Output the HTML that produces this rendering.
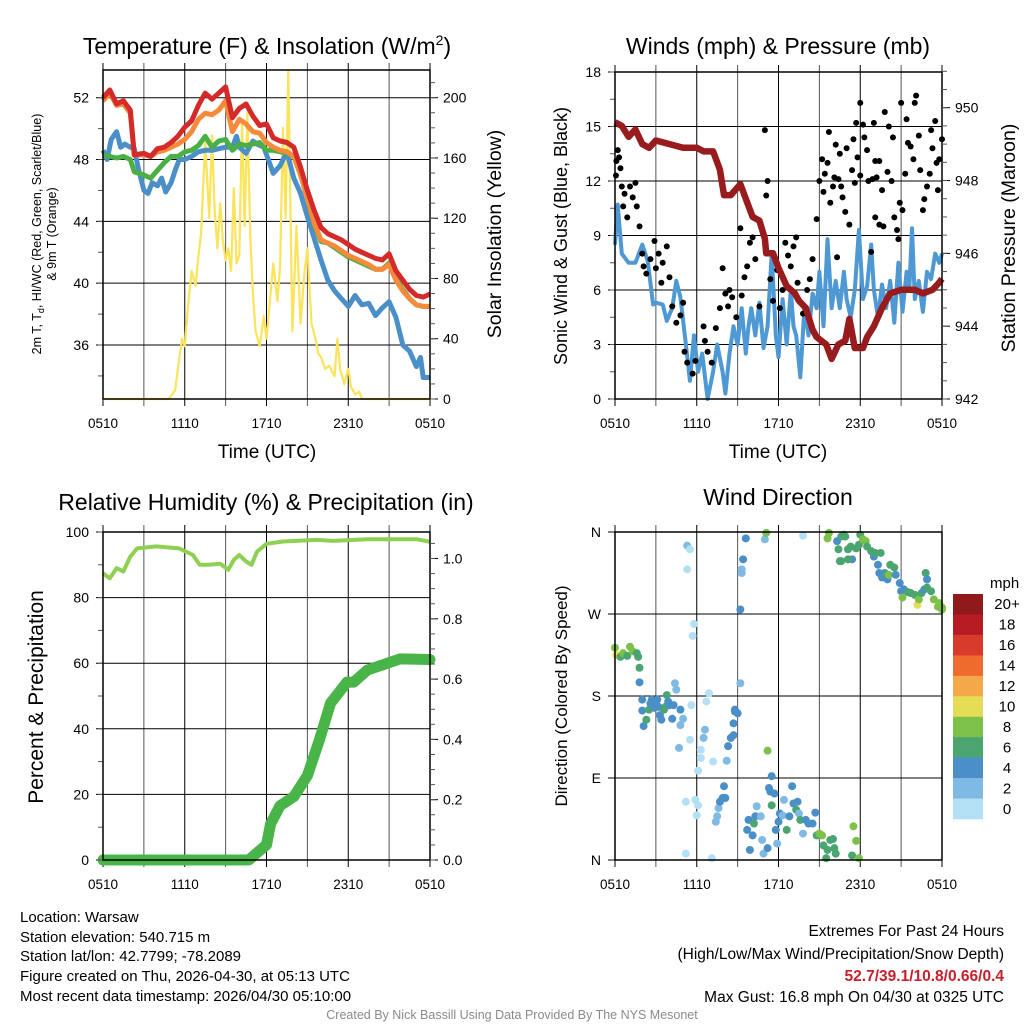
<!DOCTYPE html>
<html><head><meta charset="utf-8"><style>
html,body{margin:0;padding:0;background:#fff;}
svg{display:block;font-family:"Liberation Sans",Arial,sans-serif;}
</style></head><body>
<svg id="fig" width="1024" height="1024" viewBox="0 0 1024 1024" xmlns="http://www.w3.org/2000/svg">
<rect x="0" y="0" width="1024" height="1024" fill="#fff"/>
<g id="layer-grid"></g>
<g id="layer-data"></g>
<g id="layer-axes"></g>
<g id="layer-text" font-size="14" fill="#000">
  <text x="267" y="54" font-size="23" text-anchor="middle">Temperature (F) &amp; Insolation (W/m<tspan font-size="14" dy="-9">2</tspan><tspan dy="9">)</tspan></text>
  <text x="778" y="54" font-size="23" text-anchor="middle">Winds (mph) &amp; Pressure (mb)</text>
  <text x="266" y="510" font-size="23" text-anchor="middle">Relative Humidity (%) &amp; Precipitation (in)</text>
  <text x="778" y="505" font-size="23" text-anchor="middle">Wind Direction</text>

  <text x="267" y="458" font-size="19" text-anchor="middle">Time (UTC)</text>
  <text x="778" y="458" font-size="19" text-anchor="middle">Time (UTC)</text>

  <text transform="translate(41,234) rotate(-90)" font-size="12.5" text-anchor="middle">2m T, T<tspan font-size="9" dy="3">d</tspan><tspan dy="-3">, HI/WC (Red, Green, Scarlet/Blue)</tspan></text>
  <text transform="translate(56,234) rotate(-90)" font-size="12.5" text-anchor="middle">&amp; 9m T (Orange)</text>
  <text transform="translate(501,234) rotate(-90)" font-size="19.5" text-anchor="middle">Solar Insolation (Yellow)</text>
  <text transform="translate(567,236) rotate(-90)" font-size="18" text-anchor="middle">Sonic Wind &amp; Gust (Blue, Black)</text>
  <text transform="translate(1015,238) rotate(-90)" font-size="19.5" text-anchor="middle">Station Pressure (Maroon)</text>
  <text transform="translate(43,697) rotate(-90)" font-size="21" text-anchor="middle">Percent &amp; Precipitation</text>
  <text transform="translate(567,696) rotate(-90)" font-size="17" text-anchor="middle">Direction (Colored By Speed)</text>

  <g font-size="15">
    <text x="20" y="922">Location: Warsaw</text>
    <text x="20" y="942">Station elevation: 540.715 m</text>
    <text x="20" y="961">Station lat/lon: 42.7799; -78.2089</text>
    <text x="20" y="981">Figure created on Thu, 2026-04-30, at 05:13 UTC</text>
    <text x="20" y="1001">Most recent data timestamp: 2026/04/30 05:10:00</text>
  </g>
  <g font-size="15.5" text-anchor="end">
    <text x="1004" y="936">Extremes For Past 24 Hours</text>
    <text x="1004" y="959">(High/Low/Max Wind/Precipitation/Snow Depth)</text>
    <text x="1004" y="981" fill="#c8202a" font-weight="bold">52.7/39.1/10.8/0.66/0.4</text>
    <text x="1004" y="1002">Max Gust: 16.8 mph On 04/30 at 0325 UTC</text>
  </g>
  <text x="512" y="1019" font-size="12.5" fill="#8a8a8a" text-anchor="middle">Created By Nick Bassill Using Data Provided By The NYS Mesonet</text>
</g>
</svg>
<script>
// ---------- DATA ----------
const timeLabels = ["0510","1110","1710","2310","0510"];
// Temperature panel (hours since 0510)
const redH = [0,0.5,1,1.5,2,2.3,3,3.5,4,4.5,5,5.5,6,6.5,7,7.5,8,8.5,9,9.5,10,10.5,11,11.5,12,12.5,13,13.5,14,14.5,15,15.5,16,16.5,17,17.5,18,18.5,19,19.5,20,20.5,21,21.5,22,22.5,23,23.5,24];
const redV = [52,52.5,51.6,51.8,51.2,48.3,48.4,48.2,48.7,48.8,49.1,49.5,50.1,50.5,51.5,52.3,51.9,52.3,52.7,50.7,51.3,51.6,50.8,50.2,50.3,49.4,49.2,49.1,48.8,47.5,46,44.7,43.6,43.2,43,42.8,42.5,42.2,42,41.8,41.6,41.5,41.9,40.8,40.2,39.6,39.2,39.1,39.3];
const orangeV = [51.8,52.3,51.5,51.6,51,48.3,48.3,48.2,48.5,48.6,48.8,49,49.3,49.8,50.6,51,50.9,51.2,51.8,49.8,50.6,50.3,49.8,49.7,49.1,48.8,48.6,48.5,48.2,47,45.5,43.9,42.8,42.6,42.4,42.1,41.8,41.6,41.4,41.2,40.9,40.9,41.2,40.2,39.5,39,38.6,38.5,38.5];
const greenV = [48.3,48.2,48.1,48.2,48,47.2,47,46.8,47.3,47.8,48.2,48.2,48.5,48.6,48.9,49.5,48.8,49.2,49.3,48.6,49,48.9,49,49.1,48.6,48.6,48.5,48.4,48.2,47,45.5,43.8,42.7,42.6,42.3,42,41.7,41.5,41.3,41.1,40.9,40.9,41.3,40.3,39.6,39,38.6,38.5,38.5];
const blueH = [0,0.3,0.6,1,1.3,1.6,2,2.3,2.6,3,3.3,3.6,4,4.3,4.6,5,5.3,5.6,6,6.5,7,7.5,8,8.5,9,9.5,9.8,10,10.5,11,11.3,11.8,12.5,13,13.5,14,14.5,15,15.5,16,16.5,17,17.5,18,18.5,19,19.5,20,20.5,21,21.5,22,22.5,23,23.3,23.5,24];
const blueV = [48.6,48,49.3,49.8,48.8,49,48.8,48.7,47.4,46,45.8,46.5,46.3,46.8,45.9,46.5,47.3,48,48,48.2,48.5,48.6,48.6,48.7,48.8,48.8,49.5,48.8,48.4,49.2,49.0,48.8,47.1,47.6,48.5,46.8,45.8,44.3,42.9,41.5,40.2,39.5,39,38.5,39.2,38.6,38.7,37.9,38.4,38.8,37.8,36,35.6,34.6,35.2,33.9,33.9];
const solarH = [0,4.8,5,5.3,5.5,5.8,6,6.2,6.5,6.8,7,7.2,7.5,7.8,8,8.2,8.4,8.6,8.8,9,9.2,9.4,9.6,9.8,10,10.2,10.4,10.6,10.8,11,11.2,11.5,11.8,12,12.2,12.5,12.8,13,13.2,13.4,13.6,13.9,14.2,14.5,14.8,15,15.3,15.6,15.8,16,16.3,16.6,17,17.2,17.4,17.7,18,18.2,18.5,18.8,19,24];
const solarV = [0,0,2,6,20,40,35,58,85,75,95,110,170,120,175,125,100,130,105,92,100,85,140,90,95,185,115,190,110,70,45,35,55,40,60,90,65,88,180,120,218,45,115,50,85,100,50,40,30,28,20,22,15,40,20,10,20,8,3,5,0,0];
// Winds panel
const windH = [0,0.2,0.5,1,1.5,2,2.4,2.8,3,3.5,3.8,4.2,4.5,4.8,5.2,5.5,5.8,6.1,6.4,6.8,7.2,7.5,7.9,8.1,8.4,8.7,9,9.3,9.6,9.8,10,10.3,10.6,10.9,11.2,11.5,11.8,12,12.3,12.6,12.9,13.1,13.3,13.6,13.9,14.2,14.5,14.8,15,15.3,15.6,15.9,16.2,16.5,16.8,17,17.3,17.6,17.9,18.2,18.5,18.8,19,19.3,19.6,19.9,20.2,20.5,20.8,21.1,21.4,21.6,21.8,22,22.3,22.6,22.9,23.2,23.5,23.8,24];
const windV = [8.5,10.7,8,7.5,7.5,8.5,7.6,5.2,5.3,5.2,4.3,5,6.5,5.6,3,1,3.5,1.5,2.5,0,1.5,3,1.5,0.3,2.5,4,3,5,2.5,4,5,3.5,5.3,2.8,4,8,3.5,2.3,5.5,3,6,4,3.5,1.2,5,3.5,5.8,5,7,4,8.8,5,6.5,5,7,5.5,4.5,6,9.3,5.5,6.2,8.5,6,4.5,6.3,5,6.5,4.2,7.5,4.8,7,6,9.4,5.5,6.5,4.8,7,6.6,8,7.5,8];
const presH = [0,0.5,1,1.5,2,2.5,3,4,5,6,6.5,7.2,7.7,8,8.5,9.2,9.6,10.1,10.6,11,11.1,11.6,12,12.6,13.2,13.5,14,14.5,14.8,15.5,15.9,16.4,16.9,17.2,17.4,17.6,18.2,18.5,19,19.6,20.2,21,22,22.6,23.3,23.8,24];
const presV = [949.6,949.5,949.2,949.4,949,948.9,949.1,949,948.9,948.9,948.8,948.8,948.3,947.6,947.6,947.9,947.5,947,946.9,946.4,946,946,945.6,945.1,944.9,944.7,944.5,943.9,943.7,943.5,943.1,943.5,943.6,944.2,943.8,943.4,943.4,943.7,944,944.5,944.9,945,945,944.9,945,945.2,945.3];
const gustH = [0.07,0.1,0.2,0.3,0.4,0.5,0.6,0.7,0.9,1.1,1.3,1.5,1.6,1.8,2,2.1,2.3,2.6,2.9,3,3.2,3.4,3.5,3.8,4,4.2,4.5,4.8,5,5.1,5.3,5.7,5.9,6.5,6.6,6.8,7.1,7.4,7.7,7.9,8.1,8.3,8.4,8.6,8.9,9.2,9.3,9.5,9.7,9.9,10.1,10.3,10.6,11,11.1,11.2,11.4,11.6,11.9,12.1,12.3,12.5,12.7,12.9,13.1,13.3,13.4,13.8,14.1,14.3,14.5,14.8,15,15.2,15.3,15.4,15.6,15.7,15.8,16,16.1,16.2,16.3,16.4,16.5,16.6,16.7,16.9,17,17.2,17.4,17.5,17.6,17.7,17.8,18,18,18.2,18.3,18.5,18.6,18.8,18.9,19,19.1,19.1,19.2,19.4,19.4,19.6,19.7,19.8,20,20.1,20.3,20.4,20.5,20.7,20.8,20.9,21,21.1,21.3,21.4,21.5,21.7,21.9,22,22.1,22.3,22.4,22.6,22.7,22.9,23.1,23.2,23.3,23.5,23.6,23.7,23.8,24];
const gustV = [12.3,13.1,13.7,13.3,12.7,11.7,10.6,11.3,10,11.7,11.1,11.9,10.6,9.5,8,7.3,6.9,7.7,8.7,7.2,8,6.4,7.5,8.4,6.7,5.1,4.2,4.6,5.3,2.6,2,1.4,2.1,4,3.2,2.6,2,3.9,5,7.2,5.8,5.1,6,5.6,4.5,9.4,5.7,6.7,7.3,8.6,8.9,7.7,5.1,14.8,11.2,12,6.6,5.4,7.1,5,6,8.6,7.9,7.3,8.4,8.9,6.4,4.7,6,6.6,7.7,9.9,12,13.2,11.4,12.4,13,14.7,10.8,11.7,12.2,14,7.8,12.1,13.5,11.7,11.1,10.3,13.8,9.6,12.6,14.3,11.9,15.2,13.3,16.3,12.3,15.1,14.4,13.7,12,8.1,12.1,15.2,13.1,10,12.2,13.1,9.6,11.5,9.5,15.8,12.5,15,12,14.4,10,9.3,8.8,10.8,16.3,10.4,12.4,15.4,14.1,13.9,13.2,16.3,16.7,14.5,12.6,10.4,11,11.7,12.4,14.8,13.8,15.3,13,11.5,13.2,14.3];
// Humidity panel
const rhH = [0,0.5,1,1.5,2,2.5,3.9,5.6,6.6,7.1,7.8,8.6,9.2,9.6,10,10.5,10.9,11.3,12,13.2,15.7,16.9,19.4,23,24];
const rhV = [87.4,85.9,89,88,92.5,95,95.6,95,93,90,90,90.3,88.5,91.5,93,91,90,94,96.4,97.1,97.6,97.3,97.8,97.8,97];
const prH = [0,10.7,11.2,12,12.3,13,14,15,15.9,16.7,17.9,18.4,19.4,21.8,24];
const prV = [0,0,0.02,0.05,0.12,0.18,0.21,0.28,0.40,0.52,0.59,0.59,0.63,0.667,0.665];
// Wind direction panel
const dirH = [0,0.1,0.4,0.6,0.9,1.1,1.3,1.6,1.7,1.8,1.8,2,2,2.1,2.3,2.5,2.6,2.7,2.8,2.9,3.1,3.2,3.3,3.4,3.6,3.7,3.8,3.9,4,4.2,4.3,4.4,4.5,4.7,4.8,4.8,5,5.2,5.2,5.3,5.3,5.5,5.5,5.6,5.8,5.7,5.9,6,6.1,6.1,6.3,6.3,6.5,6.6,6.7,6.9,7.1,7.2,7.4,7.5,7.6,7.7,7.9,8,8.1,8.2,8.3,8.5,8.7,8.7,8.8,8.8,9,9.2,9.2,9.3,9.3,9.4,9.6,9.7,9.8,9.9,10.1,10.2,10.3,10.4,10.7,10.8,10.9,11,11.1,11.2,11.2,11.3,11.4,11.5,11.5,11.7,11.8,11.9,12,12.1,12.3,12.4,12.6,12.8,13,13.1,13.3,13.4,13.5,13.6,13.8,14,14.2,14.5,14.7,14.8,15,15.2,15.3,15.5,15.6,15.8,16,16.2,16.1,17.4,17.5,17.7,17.9,13.8,15.7,15.6,16.3,16.4,16.5,16.6,16.8,16.9,17.1,17.3,17.4,17.1,16.6,17.7,17.9,18,18.2,18.4,18.5,18.8,19,19.1,19.3,19.4,19.5,19.6,19.8,19.9,20,20.1,20.2,20.5,20.6,20.9,21,21.1,21.2,21.5,21.7,22,22.2,22.3,22.5,22.7,22.8,22.9,22.9,23.2,23.4,23.7,23.8,24,24];
const dirDeg = [233,225,223,227,224,234,229,227,223,211,195,176,164,147,154,165,172,176,174,167,176,168,159,154,165,168,181,174,170,155,170,194,187,123,148,165,155,64,7,319,345,341,132,170,259,246,66,49,60,98,112,121,134,143,174,183,2,108,42,48,57,64,68,81,68,109,125,134,137,150,163,165,161,194,275,315,319,330,353,33,44,11,27,40,48,59,48,22,7,352,359,13,120,79,75,92,60,73,33,18,42,51,49,66,33,48,81,62,55,64,51,44,29,44,40,40,52,27,29,27,16,2,11,22,23,7,13,5,37,21,2,356,359,353,350,341,328,355,357,355,341,344,330,330,328,342,346,357,352,350,344,339,333,337,324,315,337,310,315,313,308,313,324,321,313,304,295,288,297,294,293,291,280,286,293,297,315,308,299,295,286,278,282,277,275];
const dirSpd = [9,10.5,7,9,7,9,9,7,7,7,5,5,5,5,7,7,5,5,5,5,5,5,5,5,7,7,7,5,5,5,5,3,3,3,3,5,3,1,1,1,3,1,1,1,1,1,1,1,1,1,1,1,3,3,1,1,1,1,3,3,3,5,5,5,5,3,5,5,5,5,5,5,5,3,5,3,3,5,5,5,5,5,5,7,5,3,3,3,3,3,9,5,9,5,5,5,7,5,5,3,5,5,3,3,7,5,5,5,7,5,3,7,3,5,5,5,5,7,9,9,7,7,7,7,7,7,7,7,9,9,9,1,9,9,5,7,7,7,7,7,7,7,5,7,7,7,7,7,9,9,7,7,5,7,5,5,7,5,5,7,5,9,7,7,5,5,5,9,5,7,7,7,10.5,9,7,5,7,5,7,7,9,9,9,9,9];
const legendLabels = ["20+","18","16","14","12","10","8","6","4","2","0"];
const legendColors = ["#8e1a1b","#b71c23","#d83a2b","#ee6a2d","#f5a84a","#e6dd57","#7dc14b","#4aa571","#4a8fc7","#7fbae5","#b4e0f6"];

// ---------- HELPERS ----------
const NS = "http://www.w3.org/2000/svg";
const G = document.getElementById('layer-grid');
const D = document.getElementById('layer-data');
const A = document.getElementById('layer-axes');
function el(tag, attrs, parent){ const e=document.createElementNS(NS,tag); for(const k in attrs) e.setAttribute(k,attrs[k]); parent.appendChild(e); return e; }
function lin(d0,d1,r0,r1){ return v => r0 + (v-d0)*(r1-r0)/(d1-d0); }
function path(xs, ys, fx, fy){ let s=""; for(let i=0;i<xs.length;i++){ s += (i?"L":"M")+fx(xs[i]).toFixed(1)+","+fy(ys[i]).toFixed(1);} return s; }
function speedColor(s){ const i = Math.min(10, Math.floor(s/2)); return legendColors[10-i]; }

const panels = [
  {id:"temperature", x0:103,x1:430,y0:70,y1:399},
  {id:"winds", x0:615,x1:942,y0:72,y1:399},
  {id:"humidity", x0:103,x1:430,y0:532,y1:860},
  {id:"direction", x0:615,x1:942,y0:532,y1:860}
];
function xScale(p){ return lin(0,24,p.x0,p.x1); }

function drawFrame(p, leftTicks, leftFmt, fyL, leftMinor, rightTicks, rightFmt, fyR, rightMinor){
  const fx = xScale(p);
  for(let h=0;h<=24;h+=3){
    const gl = el('line',{x1:fx(h),x2:fx(h),y1:p.y0-7,y2:p.y1+7,stroke:(h%6===0)?'#000':'#555','stroke-width':1},G);
    
    
  }
  leftTicks.forEach(v=>{
    const y=fyL(v);
    const hl = el('line',{x1:p.x0-7,x2:p.x1,y1:y,y2:y,stroke:'#000','stroke-width':1},G);
    
    
    const t = el('text',{x:p.x0-14,y:y+5,'text-anchor':'end','font-size':14},A);
    t.textContent = leftFmt(v);
    
    
  });
  leftMinor.forEach(v=>{
    const y=fyL(v); if(y<p.y0-1||y>p.y1+1) return;
    el('line',{x1:p.x0-5,x2:p.x0,y1:y,y2:y,stroke:'#555','stroke-width':1},A);
  });
  const box = el('rect',{x:p.x0,y:p.y0,width:p.x1-p.x0,height:p.y1-p.y0,fill:'none',stroke:'#000','stroke-width':1.5},A);
  
  
  if(rightTicks){
    rightTicks.forEach(v=>{
      const y=fyR(v);
      el('line',{x1:p.x1,x2:p.x1+8,y1:y,y2:y,stroke:'#000','stroke-width':1},A);
      const t = el('text',{x:p.x1+13,y:y+5,'font-size':14},A);
      t.textContent = rightFmt(v);
      
      
    });
    rightMinor.forEach(v=>{
      const y=fyR(v); if(y<p.y0-1||y>p.y1+1) return;
      el('line',{x1:p.x1,x2:p.x1+5,y1:y,y2:y,stroke:'#555','stroke-width':1},A);
    });
  }
  timeLabels.forEach((lab,i)=>{
    const t = el('text',{x:fx(i*6),y:p.y1+29,'text-anchor':'middle','font-size':13.5},A);
    t.textContent = lab;
    
    
  });
}
function range(a,b,s){ const r=[]; for(let v=a; v<=b+1e-9; v+=s) r.push(+v.toFixed(4)); return r; }

// ---------- PANEL 1 ----------
(function(){
  const p = panels[0], fx = xScale(p);
  const fyL = lin(36,52,345,97.7), fyR = lin(0,200,399,97.7);
  drawFrame(p,[36,40,44,48,52],v=>v,fyL,range(34,54,2),[0,40,80,120,160,200],v=>v,fyR,range(0,210,10));
  const s = el('path',{d:path(solarH,solarV,fx,fyR),fill:'none',stroke:'#fbe35a','stroke-width':2.2,'stroke-linejoin':'round'},D);
  
  
  const b = el('path',{d:path(blueH,blueV,fx,fyL),fill:'none',stroke:'#4a8fc8','stroke-width':5,'stroke-linejoin':'round'},D);
  
  
  const g = el('path',{d:path(redH,greenV,fx,fyL),fill:'none',stroke:'#4bb043','stroke-width':5,'stroke-linejoin':'round'},D);
  
  
  const o = el('path',{d:path(redH,orangeV,fx,fyL),fill:'none',stroke:'#f58a3a','stroke-width':5,'stroke-linejoin':'round'},D);
  
  
  const r = el('path',{d:path(redH,redV,fx,fyL),fill:'none',stroke:'#d42a2a','stroke-width':5,'stroke-linejoin':'round'},D);
  
  
})();

// ---------- PANEL 2 ----------
(function(){
  const p = panels[1], fx = xScale(p);
  const fyL = lin(0,18,399,72), fyR = lin(942,950,399,107.7);
  drawFrame(p,[0,3,6,9,12,15,18],v=>v,fyL,range(0,18,1.5),[942,944,946,948,950],v=>v,fyR,range(942,951,0.5));
  const w = el('path',{d:path(windH,windV,fx,fyL),fill:'none',stroke:'#4e98d3','stroke-width':4,'stroke-linejoin':'round'},D);
  
  
  gustH.forEach((h,i)=>{
    const c = el('circle',{cx:fx(h),cy:fyL(gustV[i]),r:3,fill:'#000'},D);
    
    
  });
  const pr = el('path',{d:path(presH,presV,fx,fyR),fill:'none',stroke:'#981b1e','stroke-width':6.5,'stroke-linejoin':'round'},D);
  
  
})();

// ---------- PANEL 3 ----------
(function(){
  const p = panels[2], fx = xScale(p);
  const fyL = lin(0,100,860,532), fyR = lin(0,1,860,558.5);
  drawFrame(p,[0,20,40,60,80,100],v=>v,fyL,range(0,100,10),[0,0.2,0.4,0.6,0.8,1.0],v=>v.toFixed(1),fyR,range(0,1.08,0.05));
  const rh = el('path',{d:path(rhH,rhV,fx,fyL),fill:'none',stroke:'#8fd052','stroke-width':4,'stroke-linejoin':'round'},D);
  
  
  const pc = el('path',{d:path(prH,prV,fx,fyR),fill:'none',stroke:'#49b548','stroke-width':11,'stroke-linejoin':'round','stroke-linecap':'round'},D);
  
  
})();

// ---------- PANEL 4 ----------
(function(){
  const p = panels[3], fx = xScale(p);
  const fy = lin(0,360,860,532);
  drawFrame(p,[0,90,180,270,360],v=>["N","E","S","W","N"][v/90],fy,[],null,null,null,null);
  dirH.forEach((h,i)=>{
    const c = el('circle',{cx:fx(h),cy:fy(dirDeg[i]),r:4,fill:speedColor(dirSpd[i])},D);
    
    
  });
  const lt = el('text',{x:990,y:588,'font-size':15},A);
  lt.textContent = 'mph';
  
  
  const segH = 225/legendLabels.length;
  legendLabels.forEach((lab,i)=>{
    const r = el('rect',{x:953,y:594+i*segH,width:30,height:segH+0.3,fill:legendColors[i]},A);
    
    
    const t = el('text',{x:1007,y:594+i*segH+segH/2+5,'text-anchor':'middle','font-size':15},A);
    t.textContent = lab;
    
    
  });
})();
</script>
</body></html>
